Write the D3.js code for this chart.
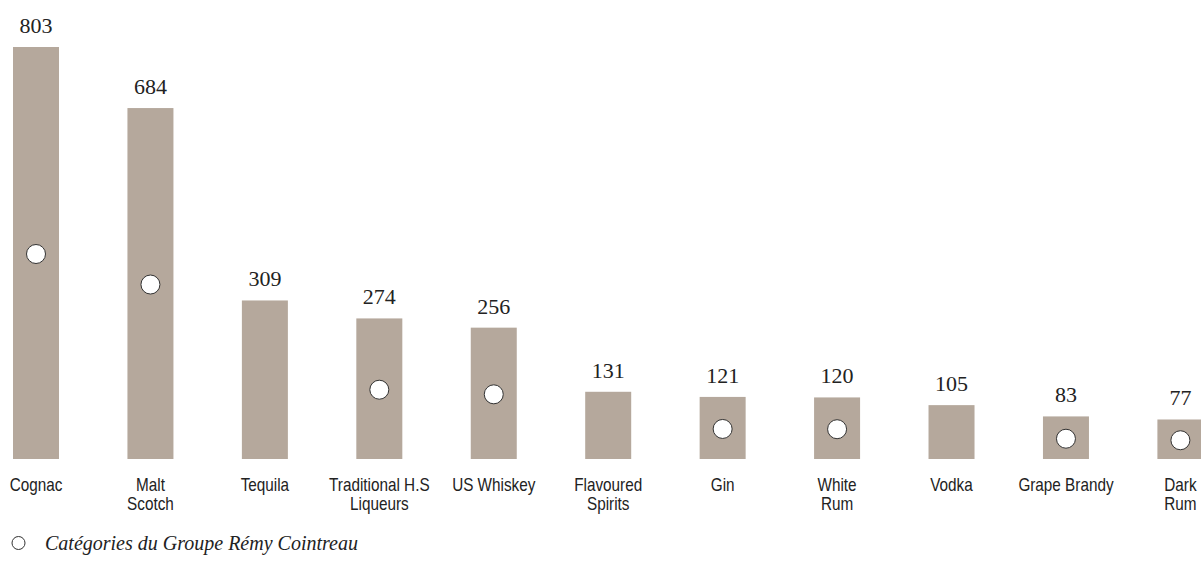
<!DOCTYPE html>
<html>
<head>
<meta charset="utf-8">
<script src="https://cdn.jsdelivr.net/npm/d3@7"></script>
<style>
    body { margin: 0; background: #fff; }
    .cat { font-family: "Liberation Sans", Arial, sans-serif; font-size: 18px; fill: #222; }
    .val { font-family: "Liberation Serif", serif; font-size: 22px; fill: #222; }
    .legend { font-family: "Liberation Serif", serif; font-style: italic; font-size: 20px; fill: #222; }
</style>
</head>
<body>
<svg width="1201" height="565"></svg>
<script>
// categories (label lines) and volumes
var categories = [
    ["Cognac"], ["Malt", "Scotch"], ["Tequila"], ["Traditional H.S", "Liqueurs"],
    ["US Whiskey"], ["Flavoured", "Spirits"], ["Gin"], ["White", "Rum"],
    ["Vodka"], ["Grape Brandy"], ["Dark", "Rum"]
];
var values = [803, 684, 309, 274, 256, 131, 121, 120, 105, 83, 77];
// categories where Rémy Cointreau is present
var remy = [true, true, false, true, true, false, true, true, false, true, true];
var legendText = "Catégories du Groupe Rémy Cointreau";

var data = categories.map(function(c, i) {
    return { key: c.join(" "), lines: c, value: values[i], remy: remy[i] };
});

var svg = d3.select("svg");
var barWidth = 46;

var xScale = d3.scalePoint()
    .domain(data.map(function(d) { return d.key; }))
    .range([36, 1180.4]);

var yScale = d3.scaleLinear()
    .domain([0, 803])
    .range([459, 47]);

// bars
svg.append("g")
    .selectAll("rect")
    .data(data)
    .enter()
    .append("rect")
    .attr("x", function(d) { return xScale(d.key) - barWidth / 2; })
    .attr("y", function(d) { return yScale(d.value); })
    .attr("width", barWidth)
    .attr("height", function(d) { return yScale(0) - yScale(d.value); })
    .attr("fill", "#b5a89c");

// value labels
svg.append("g")
    .selectAll("text")
    .data(data)
    .enter()
    .append("text")
    .attr("class", "val")
    .attr("text-anchor", "middle")
    .attr("x", function(d) { return xScale(d.key); })
    .attr("y", function(d) { return yScale(d.value) - 14; })
    .text(function(d) { return d.value; });

// Rémy markers
svg.append("g")
    .selectAll("circle")
    .data(data.filter(function(d) { return d.remy; }))
    .enter()
    .append("circle")
    .attr("cx", function(d) { return xScale(d.key); })
    .attr("cy", function(d) { return yScale(d.value / 2) + 1; })
    .attr("r", 9.5)
    .attr("fill", "#fff")
    .attr("stroke", "#333")
    .attr("stroke-width", 1);

// category labels (condensed look: horizontal squeeze)
var cats = svg.append("g")
    .selectAll("g")
    .data(data)
    .enter()
    .append("g")
    .attr("transform", function(d) { return "translate(" + xScale(d.key) + ",491) scale(0.85,1)"; })
    .append("text")
    .attr("class", "cat")
    .attr("text-anchor", "middle");

cats.selectAll("tspan")
    .data(function(d) { return d.lines; })
    .enter()
    .append("tspan")
    .attr("x", 0)
    .attr("dy", function(d, i) { return i ? 19 : 0; })
    .text(function(d) { return d; });

// legend
var legend = svg.append("g").attr("transform", "translate(18.5,543)");
legend.append("circle")
    .attr("r", 6.5)
    .attr("fill", "#fff")
    .attr("stroke", "#333")
    .attr("stroke-width", 1);
legend.append("text")
    .attr("class", "legend")
    .attr("x", 26.5)
    .attr("y", 7)
    .text(legendText);
</script>
</body>
</html>
